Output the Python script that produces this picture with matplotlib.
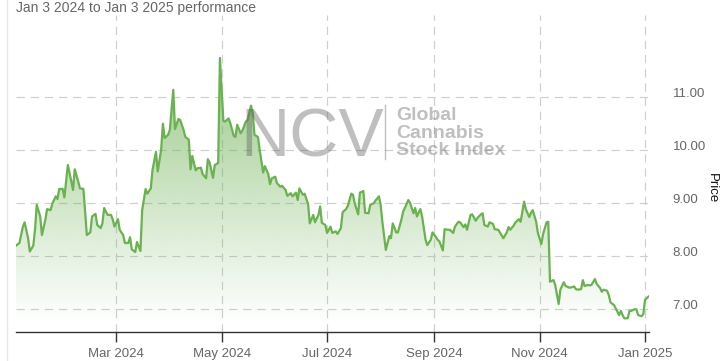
import numpy as np
import pandas as pd
import matplotlib
matplotlib.use("Agg")
import matplotlib.pyplot as plt
import matplotlib.dates as mdates
from matplotlib.lines import Line2D

plt.rcParams['font.family'] = ['Liberation Sans', 'DejaVu Sans']

# ---- data ----
start_date = "2024-01-03"
day_offsets = [0, 2, 4, 5, 7, 8, 10, 11, 12, 14, 15, 17, 18, 20, 21, 23, 24, 25, 27, 28,
               30, 31, 33, 34, 36, 37, 39, 40, 41, 43, 44, 46, 47, 49, 50, 51, 53, 55, 56, 57,
               59, 60, 62, 63, 65, 66, 67, 69, 70, 72, 73, 75, 76, 78, 79, 81, 82, 84, 85, 86,
               88, 89, 91, 92, 94, 95, 97, 98, 100, 101, 102, 104, 105, 107, 108, 110, 111, 112, 114, 115,
               117, 118, 120, 121, 123, 124, 126, 127, 128, 130, 131, 133, 134, 136, 137, 138, 140, 141, 143, 144,
               146, 147, 148, 150, 151, 153, 154, 156, 157, 159, 160, 162, 163, 164, 166, 167, 169, 170, 172, 173,
               175, 176, 177, 179, 180, 182, 183, 185, 186, 188, 189, 191, 192, 194, 195, 196, 198, 199, 201, 202,
               204, 205, 207, 208, 210, 211, 212, 214, 216, 217, 218, 220, 221, 223, 224, 225, 227, 228, 230, 231,
               232, 234, 235, 237, 238, 240, 241, 243, 244, 245, 247, 248, 250, 251, 253, 254, 256, 257, 259, 260,
               261, 263, 264, 266, 267, 269, 270, 271, 273, 274, 276, 277, 279, 280, 282, 284, 285, 286, 288, 289,
               291, 292, 294, 295, 297, 298, 299, 301, 302, 304, 305, 307, 308, 309, 311, 312, 314, 315, 317, 318,
               320, 321, 323, 324, 325, 327, 328, 329, 331, 332, 333, 335, 336, 338, 339, 340, 342, 343, 344, 346,
               347, 349, 350, 351, 352, 354, 355, 356, 358, 359, 360, 362, 363, 364, 366]
prices = [8.20, 8.25, 8.56, 8.64, 8.34, 8.09, 8.20, 8.50, 8.97, 8.75, 8.40, 8.69, 8.89, 8.87, 8.99, 9.13, 9.08, 9.27, 9.27, 9.11,
          9.72, 9.57, 9.25, 9.64, 9.41, 9.28, 9.27, 8.84, 8.40, 8.45, 8.75, 8.80, 8.59, 8.53, 8.62, 8.91, 8.78, 8.78, 8.69, 8.56,
          8.70, 8.50, 8.40, 8.25, 8.25, 8.36, 8.13, 8.08, 8.27, 8.10, 8.87, 9.27, 9.18, 9.28, 9.63, 9.97, 9.60, 10.01, 10.50, 10.23,
          10.29, 10.38, 11.14, 10.40, 10.59, 10.57, 10.38, 10.25, 10.20, 9.64, 9.89, 9.62, 9.66, 9.67, 9.55, 9.47, 9.83, 9.77, 9.48, 9.72,
          9.76, 11.74, 10.55, 10.54, 10.60, 10.51, 10.27, 10.25, 10.48, 10.32, 10.37, 10.54, 10.57, 10.84, 10.70, 10.29, 10.25, 10.01, 9.58, 9.70,
          9.55, 9.36, 9.47, 9.50, 9.38, 9.31, 9.33, 9.25, 9.14, 9.19, 9.13, 9.20, 9.06, 9.28, 9.16, 9.18, 8.99, 8.62, 8.78, 8.64,
          8.78, 8.94, 8.63, 8.59, 8.44, 8.56, 8.44, 8.47, 8.42, 8.53, 8.83, 8.89, 8.95, 9.18, 9.16, 9.00, 8.79, 9.20, 9.23, 8.82,
          8.81, 8.97, 9.00, 9.05, 9.13, 8.97, 8.65, 8.12, 8.38, 8.34, 8.62, 8.45, 8.45, 8.69, 8.84, 8.91, 9.06, 9.01, 8.81, 8.91,
          8.75, 8.89, 8.75, 8.31, 8.21, 8.31, 8.45, 8.36, 8.31, 8.28, 8.11, 8.51, 8.50, 8.50, 8.44, 8.56, 8.65, 8.64, 8.55, 8.60,
          8.50, 8.78, 8.79, 8.67, 8.72, 8.79, 8.81, 8.59, 8.56, 8.64, 8.61, 8.51, 8.50, 8.45, 8.34, 8.45, 8.55, 8.50, 8.58, 8.64,
          8.70, 8.65, 9.03, 8.89, 8.74, 8.82, 8.87, 8.65, 8.44, 8.23, 8.42, 8.64, 8.65, 7.52, 7.55, 7.46, 7.10, 7.37, 7.51, 7.44,
          7.41, 7.41, 7.43, 7.38, 7.37, 7.38, 7.55, 7.44, 7.46, 7.45, 7.46, 7.57, 7.48, 7.40, 7.33, 7.37, 7.35, 7.27, 7.13, 7.08,
          7.02, 6.89, 6.97, 6.89, 6.83, 6.83, 6.97, 6.97, 7.00, 7.00, 6.89, 6.87, 6.91, 7.18, 7.24]
y_ticks = [7.0, 8.0, 9.0, 10.0, 11.0]
x_tick_dates = ["2024-03-01", "2024-05-01", "2024-07-01", "2024-09-01", "2024-11-01", "2025-01-01"]
title_text = "Jan 3 2024 to Jan 3 2025 performance"
y_label = "Price"

dates = pd.Timestamp(start_date) + pd.to_timedelta(day_offsets, unit="D")
xn = mdates.date2num(dates.to_pydatetime())

W, H = 725, 361
fig = plt.figure(figsize=(W / 100, H / 100), dpi=100)
ax = fig.add_axes([16 / W, 1 - 332.3 / H, (648.5 - 16) / W, (332.3 - 15) / H])

ymin, ymax = 6.566, 12.55
ax.set_xlim(xn[0], xn[-1])
ax.set_ylim(ymin, ymax)

line_color = "#6ab150"
# gradient fill
poly = ax.fill_between(xn, prices, ymin, facecolor="none", edgecolor="none")
n = 256
grad = np.zeros((n, 1, 4))
rgb = np.array([106, 176, 80]) / 255.0
grad[:, 0, :3] = rgb
grad[:, 0, 3] = np.linspace(0.68, 0.0, n)
im = ax.imshow(grad, extent=[xn[0], xn[-1], 6.75, max(prices)], aspect="auto",
               origin="upper", zorder=1, interpolation="bilinear")
im.set_clip_path(poly.get_paths()[0], transform=ax.transData)
ax.set_ylim(ymin, ymax)

ax.plot(xn, prices, color=line_color, lw=1.6, zorder=3, solid_joinstyle="round")

# axes styling
for s in ["top", "left", "right"]:
    ax.spines[s].set_visible(False)
ax.spines["bottom"].set_color("#333333")
ax.spines["bottom"].set_linewidth(1.0)

ax.yaxis.tick_right()
ax.set_yticks(y_ticks)
ax.set_yticklabels([f"{v:.2f}" for v in y_ticks])
ax.tick_params(axis="y", length=0, pad=17.5, labelsize=9.5, labelcolor="#666666")
for lab in ax.get_yticklabels():
    lab.set_va("baseline")

xt = mdates.date2num(pd.to_datetime(x_tick_dates).to_pydatetime())
ax.set_xticks(xt)
ax.set_xticklabels([pd.Timestamp(d).strftime("%b %Y") for d in x_tick_dates])
ax.tick_params(axis="x", length=7, width=1, color="#333333", pad=4, labelsize=9.5, labelcolor="#666666")

ax.grid(True, color="#cfcfcf", linestyle=(0, (7, 5)), linewidth=0.85, zorder=0)
ax.set_axisbelow(True)

fig.text(712 / W, 1 - 188 / H, y_label, rotation=270, ha="center", va="center", fontsize=9.5, color="#111111")
fig.text(16 / W, 1 - 8 / H, title_text, ha="left", va="center", fontsize=10, color="#666666")

# left faint border
fig.add_artist(Line2D([6.5 / W, 6.5 / W], [0, 1], color="#e8e8e8", lw=1.0))

# watermark
wm_col = (0.35, 0.35, 0.35, 0.38)
fig.text(240 / W, 1 - 156.7 / H, "NCV", ha="left", va="baseline", fontsize=49, color=wm_col, zorder=5)
fig.add_artist(Line2D([384.5 / W, 384.5 / W], [1 - 159 / H, 1 - 105 / H], color=wm_col, lw=1.0))
for i, t in enumerate(["Global", "Cannabis", "Stock Index"]):
    fig.text(396 / W, 1 - (120 + 17.5 * i) / H, t, ha="left", va="baseline", fontsize=14,
             fontweight="bold", color=wm_col, zorder=5)

fig.savefig("out.png", dpi=100)
